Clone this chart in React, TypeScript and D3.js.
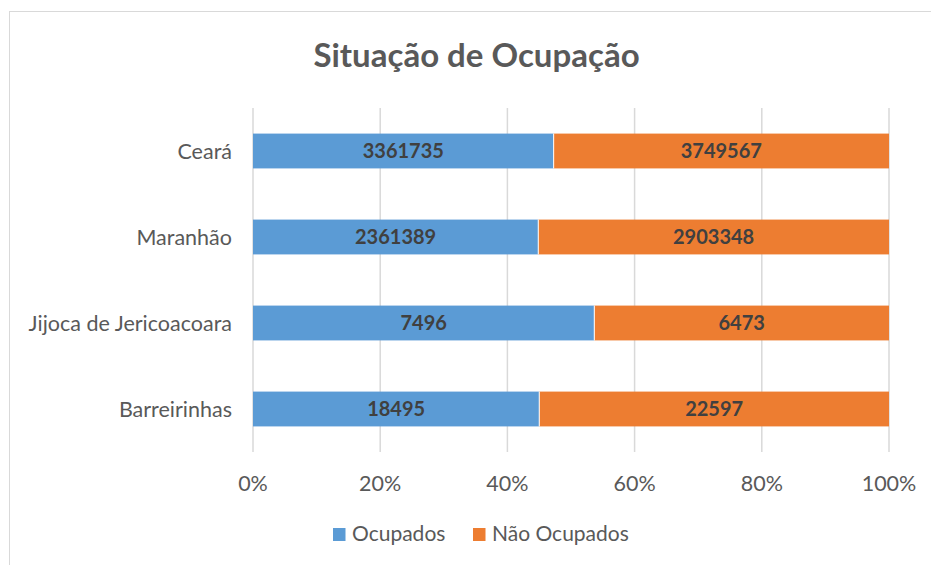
import React from "react";
import * as d3 from "d3";

const categories = ["Ceará", "Maranhão", "Jijoca de Jericoacoara", "Barreirinhas"];
const ocupados = [3361735, 2361389, 7496, 18495];
const naoOcupados = [3749567, 2903348, 6473, 22597];
const seriesNames = ["Ocupados", "Não Ocupados"];
const xTicks = [0, 0.2, 0.4, 0.6, 0.8, 1];

const W = 931;
const H = 565;
const FONT = "Lato, 'Open Sans', sans-serif";
const colors = ["#5B9BD5", "#ED7D31"];

export default function App() {
  const x = d3.scaleLinear().domain([0, 1]).range([253, 889]);
  const y = d3.scaleBand().domain(categories).range([108, 452]).paddingInner(0.595).paddingOuter(0.2975);
  const fmt = d3.format(".0%");
  const rows = categories.map((c, i) => {
    const total = ocupados[i] + naoOcupados[i];
    return { c, a: ocupados[i], b: naoOcupados[i], pa: ocupados[i] / total };
  });
  return (
    <svg width={W} height={H} style={{ position: "absolute", left: 0, top: 0, background: "#fff" }} fontFamily={FONT}>
      <rect x={9.5} y={11.5} width={1000} height={1000} fill="#fff" stroke="#D9D9D9" strokeWidth={1} />
      <text x={476.5} y={67} textAnchor="middle" fontSize={33} fontWeight="bold" fill="#595959">
        Situação de Ocupação
      </text>
      {xTicks.map((t) => (
        <g key={t}>
          <line x1={x(t)} x2={x(t)} y1={y.range()[0]} y2={y.range()[1]} stroke="#D9D9D9" strokeWidth={1.5} />
          <text x={x(t)} y={483} dy="0.35em" textAnchor="middle" fontSize={21.5} fill="#595959">
            {fmt(t)}
          </text>
        </g>
      ))}
      {rows.map((r) => {
        const y0 = y(r.c)!;
        const bw = y.bandwidth();
        const xm = x(r.pa);
        return (
          <g key={r.c}>
            <rect x={x(0)} y={y0} width={xm - x(0)} height={bw} fill={colors[0]} />
            <rect x={xm} y={y0} width={x(1) - xm} height={bw} fill={colors[1]} />
            <line x1={xm} x2={xm} y1={y0} y2={y0 + bw} stroke="#fff" strokeWidth={1} />
            <text x={(x(0) + xm) / 2} y={y0 + bw / 2} dy="0.35em" textAnchor="middle" fontSize={20} fontWeight="bold" fill="#404040">
              {r.a}
            </text>
            <text x={(xm + x(1)) / 2} y={y0 + bw / 2} dy="0.35em" textAnchor="middle" fontSize={20} fontWeight="bold" fill="#404040">
              {r.b}
            </text>
            <text x={232} y={y0 + bw / 2} dy="0.35em" textAnchor="end" fontSize={21.5} fill="#595959">
              {r.c}
            </text>
          </g>
        );
      })}
      <g>
        <rect x={333} y={528} width={12.5} height={13} fill={colors[0]} />
        <text x={352} y={534} dy="0.35em" fontSize={21} fill="#595959">{seriesNames[0]}</text>
        <rect x={473} y={528} width={12.5} height={13} fill={colors[1]} />
        <text x={492} y={534} dy="0.35em" fontSize={21} fill="#595959">{seriesNames[1]}</text>
      </g>
    </svg>
  );
}
